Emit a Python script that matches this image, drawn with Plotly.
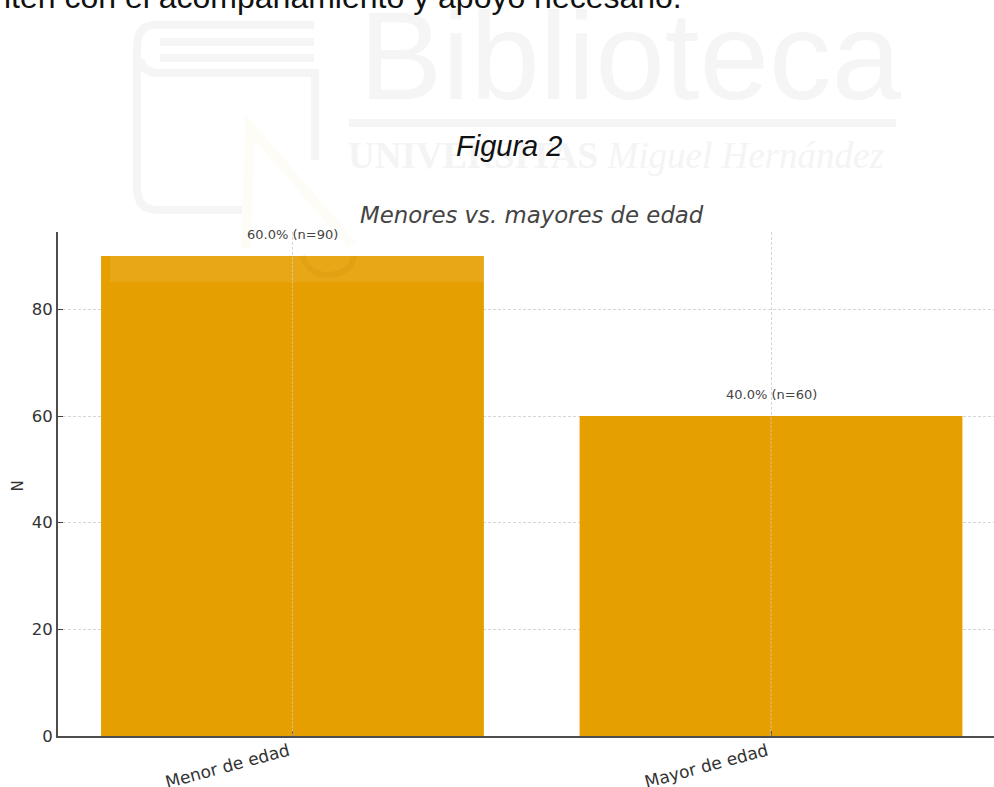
import plotly.graph_objects as go

categories = ["Menor de edad", "Mayor de edad"]
counts = [90, 60]
labels = ["60.0% (n=90)", "40.0% (n=60)"]
y_ticks = [0, 20, 40, 60, 80]

PL, PR, PT, PB = 58, 994, 232, 736
W, H = 994, 787
def px(x): return (x - PL) / (PR - PL)
def py(y): return (PB - y) / (PB - PT)

WM = "#f5f5f5"
INK = "#333333"
GRID = "#d6d6d6"
fig = go.Figure(go.Bar(x=categories, y=counts, width=0.8, marker=dict(color="#E69F00", line=dict(width=0)),
                       showlegend=False, hoverinfo="skip"))

shapes = []
# vertical grid lines seen through the bars
for c, v in zip(categories, counts):
    shapes.append(dict(type="line", xref="x", yref="y", x0=c, x1=c, y0=0, y1=v, layer="above",
                       line=dict(color="rgba(210,210,210,0.6)", width=1, dash="3px,1px")))
def prect(x0, y0, x1, y1, **kw):
    return dict(type="rect", xref="paper", yref="paper", x0=px(x0), x1=px(x1), y0=py(y0), y1=py(y1), **kw)
# faint library watermark
shapes.append(prect(110, 256, 484, 282, layer="above", fillcolor="rgba(255,255,255,0.09)", line=dict(width=0)))
shapes.append(prect(349, 119, 896, 127, layer="below", fillcolor=WM, line=dict(width=0)))
shapes.append(prect(160, 38, 314, 46, layer="below", fillcolor=WM, line=dict(width=0)))
shapes.append(prect(160, 54, 314, 62, layer="below", fillcolor=WM, line=dict(width=0)))
book = (f"M {px(314)} {py(25)} L {px(155)} {py(25)} Q {px(137)} {py(25)} {px(137)} {py(48)} L {px(137)} {py(188)} "
        f"Q {px(137)} {py(210)} {px(158)} {py(210)} L {px(242)} {py(210)} "
        f"M {px(140)} {py(60)} Q {px(144)} {py(73)} {px(158)} {py(73)} L {px(315)} {py(73)} L {px(315)} {py(160)}")
shapes.append(dict(type="path", xref="paper", yref="paper", path=book, layer="below", line=dict(color=WM, width=8)))
arrow = f"M {px(246)} {py(248)} L {px(250)} {py(127)} L {px(352)} {py(245)}"
shapes.append(dict(type="path", xref="paper", yref="paper", path=arrow, layer="below", line=dict(color="#fdfcf7", width=10)))
curl = f"M {px(302)} {py(256)} Q {px(310)} {py(276)} {px(330)} {py(275)} Q {px(352)} {py(272)} {px(354)} {py(256)}"
shapes.append(dict(type="path", xref="paper", yref="paper", path=curl, layer="above", line=dict(color="rgba(205,140,0,0.2)", width=6)))

def note(text, x, y, size, family, color, **kw):
    return dict(text=text, xref="paper", yref="paper", x=px(x), y=py(y), showarrow=False,
                font=dict(size=size, family=family, color=color), xanchor="center", yanchor="middle", **kw)

ann = [
    note("Biblioteca", 630, 56, 125, "Liberation Sans", WM),
    note("<b>UNIVERSITAS</b> <i>Miguel Hernández</i>", 616, 155, 37, "Liberation Serif", "#f4f4f4"),
    note("iten con el acompañamiento y apoyo necesario.", 343, -3, 32, "Liberation Sans", "#111111"),
    note("<i>Figura 2</i>", 509, 146, 29, "Liberation Sans", "#111111"),
    note("<i>Menores vs. mayores de edad</i>", 532, 215, 22.8, "DejaVu Sans", "#444444"),
    note("N", 17.5, 486, 15, "DejaVu Sans", INK, textangle=-90),
]
for c, v, t in zip(categories, counts, labels):
    ann.append(dict(text=t, x=c, y=v, xref="x", yref="y", yshift=22, showarrow=False,
                    font=dict(size=13, family="DejaVu Sans", color="#444444"), xanchor="center", yanchor="middle"))

fig.update_layout(
    width=W, height=H, margin=dict(l=PL, r=W - PR, t=PT, b=H - PB, pad=0),
    paper_bgcolor="white", plot_bgcolor="rgba(0,0,0,0)", showlegend=False, bargap=0.2,
    shapes=shapes, annotations=ann,
    xaxis=dict(range=[-0.49, 1.466], type="category", automargin=False, showgrid=True, gridcolor=GRID, griddash="3px,2px",
               gridwidth=1, showline=True, linecolor="#4d4d4d", linewidth=2, ticks="inside", ticklen=5, tickcolor="#444444",
               tickangle=-15, ticklabelshift=-4, ticklabelstandoff=-3,
               tickfont=dict(size=17, family="DejaVu Sans", color=INK), zeroline=False),
    yaxis=dict(range=[0, 94.5], tickvals=y_ticks, automargin=False, showgrid=True, gridcolor=GRID, griddash="3px,2px",
               gridwidth=1, showline=True, linecolor="#4d4d4d", linewidth=2, ticks="inside", ticklen=5, tickcolor="#444444",
               tickfont=dict(size=16.5, family="DejaVu Sans", color=INK), zeroline=False),
)
fig.write_html("out.html", config=dict(displayModeBar=False),
               post_script="document.body.style.margin='0';document.body.style.overflow='hidden';")
